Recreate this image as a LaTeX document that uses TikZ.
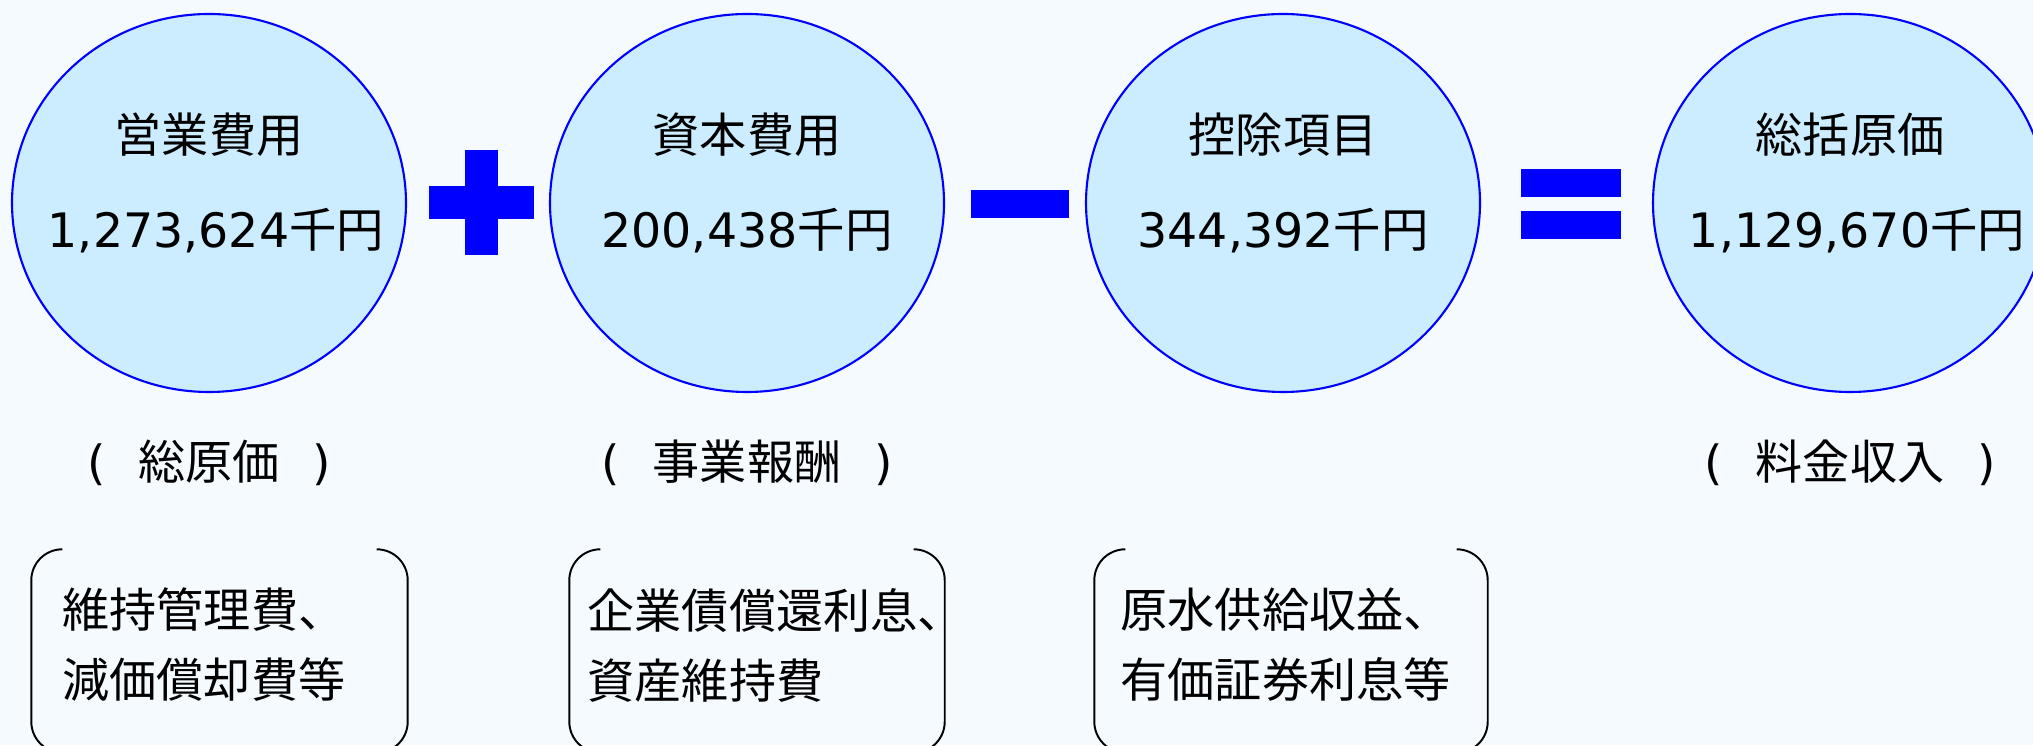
\documentclass[tikz,border=0pt]{standalone}
\usepackage{fontspec}
\setmainfont{DejaVu Sans}
\newfontfamily\cjk{Noto Sans CJK JP}
\usepackage{tikz}
\usetikzlibrary{shapes.geometric, positioning}
\definecolor{paper}{RGB}{245, 250, 255}
\definecolor{discfill}{RGB}{204, 236, 255}
\definecolor{discline}{RGB}{0, 0, 255}
\definecolor{opcolor}{RGB}{0, 0, 255}

\tikzset{
    costdisc/.style={ellipse, draw=discline, line width=0.6pt, fill=discfill, minimum width=3.94cm, minimum height=3.78cm, inner sep=0pt},
    disctitle/.style={anchor=base, inner sep=0pt, font=\fontsize{13.4}{16}\selectfont\cjk},
    discvalue/.style={anchor=base, inner sep=0pt, font=\fontsize{13.5}{16}\selectfont},
    sublabel/.style={anchor=base, inner sep=0pt, font=\fontsize{13.4}{16}\selectfont},
    notebox/.style={rectangle, inner sep=0pt, minimum height=2.02cm},
    notetext/.style={anchor=west, align=left, inner sep=0pt, font=\fontsize{13.4}{19.9}\selectfont\cjk},
    bracketline/.style={draw=black, line width=0.55pt, rounded corners=0.31cm}
}

\begin{document}
\begin{tikzpicture}
    \useasboundingbox (0,0) rectangle (20.33,7.45);
    \clip (0,0) rectangle (20.33,7.45);
    \fill[paper] (0,0) rectangle (20.33,7.45);

    % Cost circles
    \node[costdisc] (opex) at (2.09, 5.42) {};
    \node[costdisc] (capex) at (7.47, 5.42) {};
    \node[costdisc] (deduct) at (12.83, 5.42) {};
    \node[costdisc] (total) at (18.50, 5.42) {};

    \node[disctitle] (opextitle) at ([yshift=0.5cm]opex.center) {営業費用};
    \node[discvalue] (opexvalue) at ([xshift=0.07cm, yshift=-0.45cm]opex.center) {1,273,624{\cjk 千円}};
    \node[disctitle] (capextitle) at ([yshift=0.5cm]capex.center) {資本費用};
    \node[discvalue] (capexvalue) at ([yshift=-0.45cm]capex.center) {200,438{\cjk 千円}};
    \node[disctitle] (deducttitle) at ([yshift=0.5cm]deduct.center) {控除項目};
    \node[discvalue] (deductvalue) at ([yshift=-0.45cm]deduct.center) {344,392{\cjk 千円}};
    \node[disctitle] (totaltitle) at ([yshift=0.5cm]total.center) {総括原価};
    \node[discvalue] (totalvalue) at ([xshift=0.07cm, yshift=-0.45cm]total.center) {1,129,670{\cjk 千円}};

    % Operators
    \fill[opcolor] (4.285, 5.255) rectangle (5.335, 5.585);
    \fill[opcolor] (4.645, 4.895) rectangle (4.975, 5.945);
    \fill[opcolor] (9.71, 5.27) rectangle (10.69, 5.55);
    \fill[opcolor] (15.21, 5.48) rectangle (16.21, 5.76);
    \fill[opcolor] (15.21, 5.06) rectangle (16.21, 5.34);

    % Labels under circles
    \node[sublabel] (opexlabel) at (2.09, 2.65) {(\hspace{0.7em}{\cjk 総原価}\hspace{0.7em})};
    \node[sublabel] (capexlabel) at (7.47, 2.65) {(\hspace{0.7em}{\cjk 事業報酬}\hspace{0.7em})};
    \node[sublabel] (totallabel) at (18.50, 2.65) {(\hspace{0.7em}{\cjk 料金収入}\hspace{0.7em})};

    % Bracket boxes
    \node[notebox, minimum width=3.75cm] (opexnote) at (2.195, 0.94) {};
    \node[notebox, minimum width=3.74cm] (capexnote) at (7.57, 0.94) {};
    \node[notebox, minimum width=3.92cm] (deductnote) at (12.91, 0.94) {};

    \foreach \notename in {opexnote, capexnote, deductnote} {
        \draw[bracketline] ([xshift=0.31cm]\notename.north west) -- (\notename.north west) -- (\notename.south west) -- ([xshift=0.31cm]\notename.south west);
        \draw[bracketline] ([xshift=-0.31cm]\notename.north east) -- (\notename.north east) -- (\notename.south east) -- ([xshift=-0.31cm]\notename.south east);
    }

    \node[notetext] (opextext) at (0.62, 1.00) {維持管理費、\\減価償却費等};
    \node[notetext] (capextext) at (5.87, 1.00) {企業債償還利息、\\資産維持費};
    \node[notetext] (deducttext) at (11.20, 1.00) {原水供給収益、\\有価証券利息等};

\end{tikzpicture}
\end{document}
